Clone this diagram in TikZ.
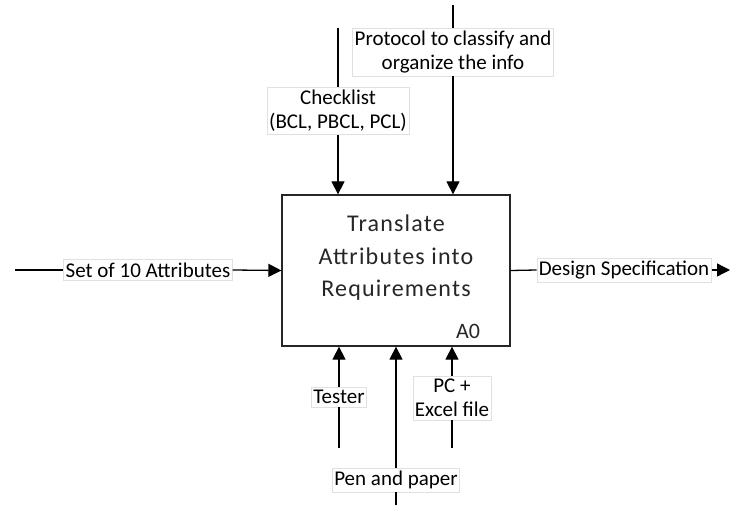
\documentclass[tikz,border=0pt]{standalone}
\usepackage{fontspec}
\setmainfont{Carlito}
\newfontfamily\spacedfont[LetterSpace=5]{Carlito}
\usetikzlibrary{arrows.meta}
\begin{document}
\begin{tikzpicture}[x=1pt,y=-1pt,
  line width=1.3pt,
  arr/.style={-{Triangle[length=13pt,width=13pt]}},
  func/.style={draw=black!85, line width=1.3pt, minimum width=228pt, minimum height=151pt, inner sep=0pt},
  lbl/.style={fill=white, draw=black!12, line width=0.6pt, inner xsep=2pt, inner ysep=3pt, align=center,
    font=\fontsize{21}{24}\selectfont},
  boxtext/.style={align=center, text=black!85, font=\spacedfont\fontsize{24}{32.5}\selectfont}]
  \useasboundingbox (0,0) rectangle (731,505);

  % activity box
  \node[func] (A0) at (396,270.5) {};
  \node[boxtext] (title) at (396,258) {Translate\\Attributes into\\Requirements};
  \node[text=black!85, font=\fontsize{22}{24}\selectfont] (num) at (468,331) {A0};

  % free ends of the connectors
  \coordinate (inW) at (15,270);
  \coordinate (outE) at (730,270);
  \coordinate (chkTop) at (338,28);
  \coordinate (proTop) at (453,5);
  \coordinate (tesBot) at (339,448);
  \coordinate (penBot) at (396,505);
  \coordinate (pcBot) at (452,448);

  % labels
  \node[lbl] (lIn) at (148,270) {Set of 10 Attributes};
  \node[lbl] (lOut) at (624,270) {Design Specification};
  \node[lbl] (lChk) at (338,111) {Checklist\\(BCL, PBCL, PCL)};
  \node[lbl] (lPro) at (453,52) {Protocol to classify and\\organize the info};
  \node[lbl] (lTes) at (339,397) {Tester};
  \node[lbl] (lPen) at (396,480) {Pen and paper};
  \node[lbl] (lPc) at (452,398) {PC +\\Excel file};

  % input
  \draw (inW) -- (lIn.west);
  \draw[arr] (lIn.east) -- (A0.west);
  % output
  \draw (A0.east) -- (lOut.west);
  \draw[arr] (lOut.east) -- (outE);
  % controls
  \draw (chkTop) -- (lChk.north);
  \draw[arr] (lChk.south) -- (lChk.south |- A0.north);
  \draw (proTop) -- (lPro.north);
  \draw[arr] (lPro.south) -- (lPro.south |- A0.north);
  % mechanisms
  \draw (tesBot) -- (lTes.south);
  \draw[arr] (lTes.north) -- (lTes.north |- A0.south);
  \draw (penBot) -- (lPen.south);
  \draw[arr] (lPen.north) -- (lPen.north |- A0.south);
  \draw (pcBot) -- (lPc.south);
  \draw[arr] (lPc.north) -- (lPc.north |- A0.south);
\end{tikzpicture}
\end{document}
